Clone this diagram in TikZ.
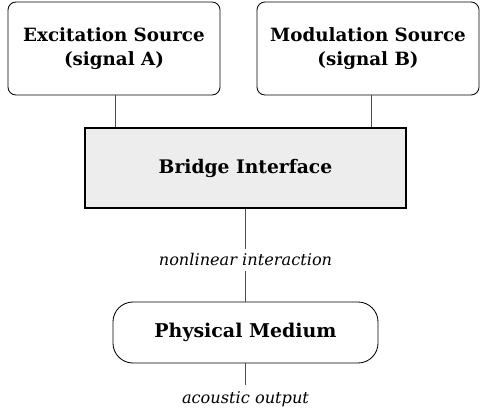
\documentclass[tikz,border=0pt]{standalone}
\usepackage{fontspec}
\setmainfont{DejaVu Serif}
\usetikzlibrary{positioning}
\tikzset{
  srcbox/.style={draw, rounded corners=0.2cm, align=center, font=\fontsize{13}{16.5}\selectfont\bfseries, line width=0.6pt},
  bridgebox/.style={draw, fill=gray!14, line width=1.3pt, font=\fontsize{13.3}{16}\selectfont\bfseries},
  mediumbox/.style={draw, rounded corners=0.5cm, line width=0.6pt, font=\fontsize{13.5}{16}\selectfont\bfseries},
  link/.style={draw=black!70, line width=0.6pt},
  tag/.style={fill=white, font=\fontsize{11.5}{13}\selectfont\itshape}
}
\begin{document}
\begin{tikzpicture}[x=0.025cm, y=-0.025cm]
  \useasboundingbox (0,0) rectangle (480,409);
  % sources
  \node[srcbox, minimum width=5.3cm, minimum height=2.325cm] (excite) at (114,48.5) {Excitation Source\\(signal A)};
  \node[srcbox, minimum width=5.55cm, minimum height=2.325cm] (modul) at (368,48.5) {Modulation Source\\(signal B)};
  % bridge and medium
  \node[bridgebox, minimum width=8.025cm, minimum height=2cm] (bridge) at (245.5,168) {Bridge Interface};
  \node[mediumbox, minimum width=6.625cm, minimum height=1.525cm] (medium) at (245.5,332.5) {Physical Medium};
  \coordinate (out) at (245.5,385);
  % links
  \draw[link] (excite.south -| 115,0) -- (bridge.north -| 115,0);
  \draw[link] (modul.south -| 371,0) -- (bridge.north -| 371,0);
  \draw[link] (bridge.south) -- node[tag, pos=0.55]{nonlinear interaction} (medium.north);
  \draw[link] (medium.south) -- (out) node[tag, below=1pt]{acoustic output};
\end{tikzpicture}
\end{document}
